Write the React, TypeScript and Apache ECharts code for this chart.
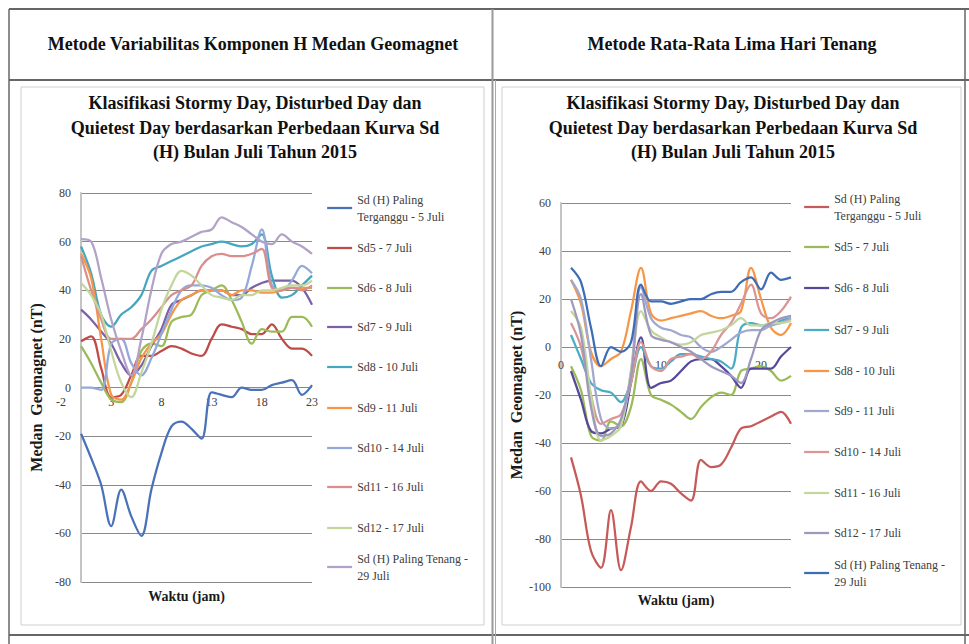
import { useEffect, useRef } from "react";
import * as echarts from "echarts";

// ---------- data ----------
const hoursLeft = [0, 1, 2, 3, 4, 5, 6, 7, 8, 9, 10, 11, 12, 13, 14, 15, 16, 17, 18, 19, 20, 21, 22, 23];
const hoursRight = [1, 2, 3, 4, 5, 6, 7, 8, 9, 10, 11, 12, 13, 14, 15, 16, 17, 18, 19, 20, 21, 22, 23];

const seriesNames = [
  "Sd (H) Paling Terganggu - 5 Juli",
  "Sd5 - 7 Juli",
  "Sd6 - 8 Juli",
  "Sd7 - 9 Juli",
  "Sd8 - 10 Juli",
  "Sd9 - 11 Juli",
  "Sd10 - 14 Juli",
  "Sd11 - 16 Juli",
  "Sd12 - 17 Juli",
  "Sd (H) Paling Tenang - 29 Juli",
];
const legendLabels = [
  "Sd (H) Paling\nTerganggu - 5 Juli",
  "Sd5 - 7 Juli",
  "Sd6 - 8 Juli",
  "Sd7 - 9 Juli",
  "Sd8 - 10 Juli",
  "Sd9 - 11 Juli",
  "Sd10 - 14 Juli",
  "Sd11 - 16 Juli",
  "Sd12 - 17 Juli",
  "Sd (H) Paling Tenang -\n29 Juli",
];

// Left chart: Metode Variabilitas Komponen H
const leftTerganggu5 = [-19, -29, -40, -57, -42, -53, -61, -42, -27, -16, -14, -17, -21, -2, -3, -4, 0, -1, -1, 1, 2, 3, -3, 1];
const leftSd5 = [19, 21, 8, -4, -3, 5, 13, 13, 15, 17, 16, 14, 13, 20, 26, 25, 24, 22, 22, 26, 20, 16, 16, 13];
const leftSd6 = [17, 10, 2, -5, -6, 2, 15, 18, 17, 27, 29, 30, 38, 40, 42, 36, 27, 18, 24, 23, 23, 29, 29, 25];
const leftSd7 = [32, 28, 23, 18, 10, 5, 9, 17, 24, 34, 36, 38, 40, 40, 40, 38, 38, 41, 43, 44, 44, 44, 41, 34];
const leftSd8 = [58, 47, 30, 25, 30, 33, 38, 48, 50, 52, 54, 56, 58, 59, 60, 59, 58, 59, 63, 46, 37, 38, 42, 46];
const leftSd9 = [55, 45, 20, -3, -5, 2, 12, 18, 22, 30, 36, 38, 40, 40, 40, 38, 40, 40, 39, 39, 40, 41, 41, 41];
const leftSd10 = [0, 0, -1, 18, 20, 10, 5, 12, 22, 32, 40, 42, 42, 41, 38, 36, 37, 50, 65, 42, 40, 44, 50, 47];
const leftSd11 = [54, 40, 28, 20, 20, 20, 24, 28, 33, 38, 40, 42, 50, 54, 55, 54, 54, 55, 57, 41, 40, 41, 40, 42];
const leftSd12 = [43, 38, 30, 15, 2, -4, 6, 18, 32, 42, 48, 46, 42, 38, 37, 36, 38, 38, 40, 40, 41, 42, 42, 44];
const leftTenang29 = [61, 60, 45, 28, 15, 5, 20, 40, 55, 59, 60, 62, 64, 65, 70, 68, 66, 63, 60, 59, 63, 60, 58, 55];

// Right chart: Metode Rata-Rata Lima Hari Tenang
const rightTerganggu5 = [-46, -62, -85, -92, -68, -93, -75, -56, -60, -56, -57, -61, -64, -47, -50, -49, -42, -34, -33, -31, -29, -27, -32];
const rightSd5 = [-8, -18, -37, -39, -31, -33, -25, -5, -20, -22, -24, -27, -30, -25, -21, -19, -20, -10, -9, -8, -10, -14, -12];
const rightSd6 = [-10, -22, -35, -36, -34, -33, -15, 4, -17, -15, -14, -10, -6, -5, -5, -8, -12, -17, -9, -9, -9, -4, 0];
const rightSd7 = [5, -5, -15, -18, -19, -23, -14, 0, -8, -9, -6, -3, -3, -4, -5, -6, -9, 8, 10, 9, 9, 11, 12];
const rightSd8 = [28, 18, -2, -8, -5, -2, 15, 33, 14, 11, 12, 13, 14, 15, 13, 12, 13, 15, 33, 20, 8, 5, 10];
const rightSd9 = [28, 20, -5, -30, -34, -32, -10, 25, 12, 8, 7, 5, 4, 0, -2, 0, 3, 6, 7, 7, 9, 10, 12];
const rightSd10 = [10, 0, -20, -32, -30, -28, -15, 2, -8, -10, -5, -4, -3, -5, -2, 5, 10, 18, 26, 14, 12, 15, 21];
const rightSd11 = [15, 8, -20, -39, -37, -33, -10, 15, 7, 4, 2, 1, 2, 5, 6, 7, 9, 12, 9, 9, 10, 10, 11];
const rightSd12 = [20, 5, -25, -37, -36, -30, -12, 22, 5, 3, 2, 0, -2, -5, -8, -10, -12, -15, -5, 7, 10, 12, 13];
const rightTenang29 = [33, 27, 8, -8, 0, -2, 2, 26, 19, 19, 18, 19, 20, 20, 22, 23, 23, 27, 29, 24, 31, 28, 29];

const leftValues = [leftTerganggu5, leftSd5, leftSd6, leftSd7, leftSd8, leftSd9, leftSd10, leftSd11, leftSd12, leftTenang29];
const rightValues = [rightTerganggu5, rightSd5, rightSd6, rightSd7, rightSd8, rightSd9, rightSd10, rightSd11, rightSd12, rightTenang29];

// axis ranges / ticks
const leftX = { min: -2, max: 23, interval: 5 };
const leftY = { min: -80, max: 80, interval: 20 };
const rightX = { min: 0, max: 23, interval: 10 };
const rightY = { min: -100, max: 60, interval: 20 };

const headerLeft = "Metode Variabilitas Komponen H Medan Geomagnet";
const headerRight = "Metode Rata-Rata Lima Hari Tenang";
const chartTitle = "Klasifikasi Stormy Day, Disturbed Day dan\nQuietest Day berdasarkan Perbedaan Kurva Sd\n(H) Bulan Juli Tahun 2015";
const xName = "Waktu (jam)";
const yName = "Medan  Geomagnet (nT)";

// ---------- styles ----------
const FONT = "'Liberation Serif', 'Times New Roman', serif";
const leftColors = ["#4A72B8", "#BE4B48", "#9BBB59", "#7B61A8", "#44A6BF", "#F79646", "#93A9DA", "#DA8E8C", "#C3D69B", "#B3A2C7"];
const rightColors = ["#C65A58", "#9BBB59", "#56499A", "#4BACC6", "#F79646", "#A0A8CF", "#D99694", "#C3D69B", "#9E97BE", "#3F6DB5"];
const leftLegendY = [208, 248, 288, 327, 367, 408, 448, 487, 528, 567];
const rightLegendY = [207, 247, 288, 330, 371, 411, 452, 493, 533, 573];

const axisLabelStyle = { fontFamily: FONT, fontSize: 12, color: "#404040" };
const legendTextStyle = { fontFamily: FONT, fontSize: 12, color: "#404040" };
const nameStyle = { fontFamily: FONT, fontSize: 14, fontWeight: "bold", color: "#1a1a1a" };

function line(x1: number, y1: number, x2: number, y2: number, color: string, w: number) {
  return { type: "line", silent: true, shape: { x1, y1, x2, y2 }, style: { stroke: color, lineWidth: w } };
}

function legends(left: number, ys: number[]) {
  return seriesNames.map((name, i) => {
    const two = legendLabels[i].includes("\n");
    return {
      left,
      top: ys[i] - (two ? 25.5 : 8.5),
      orient: "vertical",
      padding: 0,
      itemGap: 0,
      itemWidth: 25,
      itemHeight: 14,
      selectedMode: false,
      data: [name],
      formatter: () => legendLabels[i],
      itemStyle: { opacity: 0 },
      lineStyle: { width: 2.25 },
      textStyle: { ...legendTextStyle, lineHeight: 17, padding: two ? [17, 0, 0, 0] : 0 },
    };
  });
}

function seriesList(hours: number[], values: number[][], colors: string[], xAxisIndex: number, yAxisIndex: number) {
  return values.map((vals, i) => ({
    name: seriesNames[i],
    type: "line",
    xAxisIndex,
    yAxisIndex,
    data: vals.map((v, k) => [hours[k], v]),
    symbol: "none",
    smooth: 0.35,
    z: 3,
    color: colors[i],
    lineStyle: { color: colors[i], width: 2.25 },
  }));
}

function titles(headerText: string, cx: number, tx: number) {
  return [
    {
      text: headerText, left: cx, top: 33, padding: 0, textAlign: "center", textVerticalAlign: "top",
      textStyle: { fontFamily: FONT, fontSize: 18, fontWeight: "bold", color: "#111", lineHeight: 22 },
    },
    {
      text: chartTitle, left: tx, top: 90.75, padding: 0, textAlign: "center", textVerticalAlign: "top",
      textStyle: { fontFamily: FONT, fontSize: 18, fontWeight: "bold", color: "#111", lineHeight: 24.5 },
    },
  ];
}

function buildLeft() {
  return {
    animation: false,
    backgroundColor: "#ffffff",
    title: titles(headerLeft, 253, 255),
    graphic: [
      line(9, 9, 494, 9, "#333", 1.5),
      line(9, 80, 494, 80, "#333", 1.5),
      line(9, 635, 494, 635, "#333", 1.5),
      line(9, 9, 9, 644, "#666", 1.5),
      line(492.5, 9, 492.5, 644, "#999", 2),
      { type: "rect", silent: true, shape: { x: 21, y: 87, width: 463, height: 538 }, style: { fill: "none", stroke: "#cfcfcf", lineWidth: 1 } },
    ],
    grid: [
      { left: 81, top: 193, width: 231, height: 389, outerBoundsMode: "none", containLabel: false },
      { left: 61, top: 193, width: 251, height: 389, outerBoundsMode: "none", containLabel: false },
    ],
    xAxis: [
      { type: "value", gridIndex: 0, min: 0, max: 23, show: false },
      {
        // horizontal axis crosses the value axis at 0 (389px high plot, -80..80)
        type: "value", gridIndex: 1, min: leftX.min, max: leftX.max, interval: leftX.interval,
        position: "bottom", offset: -194.5,
        axisLine: { show: false, onZero: false }, axisTick: { show: false }, splitLine: { show: false },
        axisLabel: { ...axisLabelStyle, margin: 8 },
        name: xName, nameLocation: "middle", nameGap: 202, nameTextStyle: nameStyle,
      },
    ],
    yAxis: [
      {
        type: "value", gridIndex: 0, min: leftY.min, max: leftY.max, interval: leftY.interval,
        axisLine: { show: false }, axisTick: { show: false }, axisLabel: { show: false },
        splitLine: { show: true, lineStyle: { color: "#8a8a8a", width: 1 } },
      },
      {
        // vertical axis crosses the time axis at hour 0 (20px right of -2)
        type: "value", gridIndex: 1, min: leftY.min, max: leftY.max, interval: leftY.interval,
        position: "left", offset: -20,
        axisLine: { show: true, onZero: false, lineStyle: { color: "#c4c4c4", width: 2 } },
        axisTick: { show: false }, splitLine: { show: false },
        axisLabel: { ...axisLabelStyle, margin: 10 },
        name: yName, nameLocation: "middle", nameGap: 30, nameTextStyle: { ...nameStyle, fontSize: 16 },
      },
    ],
    legend: legends(326, leftLegendY),
    series: seriesList(hoursLeft, leftValues, leftColors, 1, 1),
  };
}

function buildRight() {
  return {
    animation: false,
    backgroundColor: "#ffffff",
    title: titles(headerRight, 238, 239),
    graphic: [
      line(0, 9, 475, 9, "#333", 1.5),
      line(0, 80, 475, 80, "#333", 1.5),
      line(0, 635, 475, 635, "#333", 1.5),
      line(1.5, 80, 1.5, 644, "#aaa", 1),
      line(471, 9, 471, 644, "#666", 1.5),
      { type: "rect", silent: true, shape: { x: 8, y: 87, width: 459, height: 538 }, style: { fill: "none", stroke: "#cfcfcf", lineWidth: 1 } },
    ],
    grid: [{ left: 67, top: 203, width: 230, height: 384, outerBoundsMode: "none", containLabel: false }],
    xAxis: [
      {
        // crosses the value axis at 0 (384px high plot, -100..60)
        type: "value", min: rightX.min, max: rightX.max, interval: rightX.interval,
        position: "bottom", offset: -240,
        axisLine: { show: false, onZero: false }, axisTick: { show: false }, splitLine: { show: false },
        axisLabel: { ...axisLabelStyle, margin: 12, showMaxLabel: false },
        name: xName, nameLocation: "middle", nameGap: 246, nameTextStyle: nameStyle,
      },
    ],
    yAxis: [
      {
        type: "value", min: rightY.min, max: rightY.max, interval: rightY.interval,
        axisLine: { show: true, onZero: false, lineStyle: { color: "#c4c4c4", width: 2 } },
        axisTick: { show: false },
        splitLine: { show: true, lineStyle: { color: "#8a8a8a", width: 1 } },
        axisLabel: { ...axisLabelStyle, margin: 10 },
        name: yName, nameLocation: "middle", nameGap: 37, nameTextStyle: { ...nameStyle, fontSize: 16 },
      },
    ],
    legend: legends(309, rightLegendY),
    series: seriesList(hoursRight, rightValues, rightColors, 0, 0),
  };
}

export default function App() {
  const leftRef = useRef<HTMLDivElement>(null);
  const rightRef = useRef<HTMLDivElement>(null);
  useEffect(() => {
    const l = echarts.init(leftRef.current as HTMLDivElement, null, { renderer: "svg" });
    const r = echarts.init(rightRef.current as HTMLDivElement, null, { renderer: "svg" });
    l.setOption(buildLeft() as any);
    r.setOption(buildRight() as any);
    return () => {
      l.dispose();
      r.dispose();
    };
  }, []);
  return (
    <div style={{ position: "fixed", left: 0, top: 0, width: 969, height: 644, background: "#fff" }}>
      <div ref={leftRef} style={{ position: "absolute", left: 0, top: 0, width: 494, height: 644 }} />
      <div ref={rightRef} style={{ position: "absolute", left: 494, top: 0, width: 475, height: 644 }} />
    </div>
  );
}
